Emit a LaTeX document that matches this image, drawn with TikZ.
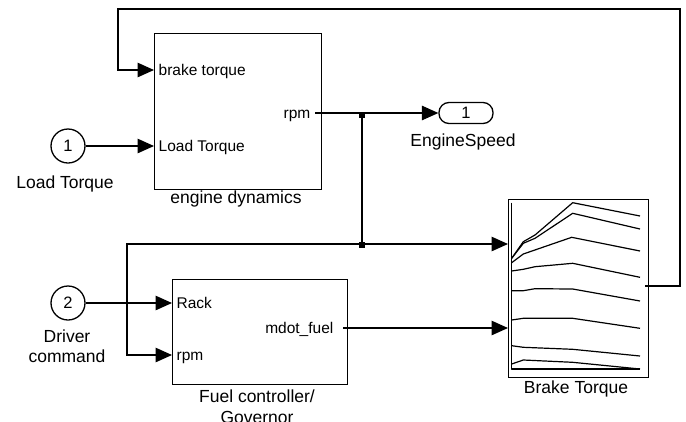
\documentclass[tikz,border=0pt]{standalone}
\usepackage{fontspec}
\setmainfont{Liberation Sans}
\usetikzlibrary{arrows.meta}
\begin{document}
\begin{tikzpicture}[x=1pt,y=-1pt, line width=1.3pt,
  blk/.style={draw, line width=1.3pt, inner sep=0pt, anchor=north west},
  namelbl/.style={font=\fontsize{17.5}{20}\selectfont, anchor=base, inner sep=0pt},
  portlbl/.style={font=\fontsize{15.5}{18}\selectfont, inner sep=0pt},
  inport/.style={draw, circle, minimum size=34pt, inner sep=0pt, font=\fontsize{16.5}{18}\selectfont},
  sig/.style={line width=1.3pt, -{Triangle[length=16.5pt,width=14.5pt]}},
  wire/.style={line width=1.3pt},
  junc/.style={fill, minimum size=6pt, inner sep=0pt},
  tcurve/.style={line width=1.2pt, line join=round}]
\useasboundingbox (0,0) rectangle (686,421);

% blocks
\node[blk, minimum width=167pt, minimum height=156pt] (eng) at (154,33) {};
\node[blk, minimum width=175pt, minimum height=105pt] (fuel) at (172,279) {};
\node[blk, minimum width=140pt, minimum height=178pt] (bt) at (508,199) {};
\node[inport] (in1) at (68,146) {1};
\node[inport] (in2) at (68,303) {2};
\node[draw, rounded corners=10pt, minimum width=54pt, minimum height=21pt, inner sep=0pt,
      font=\fontsize{16.5}{18}\selectfont] (out1) at (466,113) {1};

% port labels
\node[portlbl, anchor=base west] (lbt) at (158,75.5) {brake torque};
\node[portlbl, anchor=base west] (llt) at (158,151.5) {Load Torque};
\node[portlbl, anchor=base east] (lrpm) at (311,118.5) {rpm};
\node[portlbl, anchor=base west] (lrack) at (176,308.5) {Rack};
\node[portlbl, anchor=base west] (lrpmb) at (176,360.5) {rpm};
\node[portlbl, anchor=base east] (lmdot) at (334,333.5) {mdot\_fuel};

% block names
\node[namelbl] (neng) at (236,203) {engine dynamics};
\node[namelbl] (nin1) at (65,188) {Load Torque};
\node[namelbl] (nout1) at (463,146) {EngineSpeed};
\node[namelbl] (nin2a) at (67,342) {Driver};
\node[namelbl] (nin2b) at (67,362) {command};
\node[namelbl] (nfuela) at (257,402) {Fuel controller/};
\node[namelbl] (nfuelb) at (257,423) {Governor};
\node[namelbl] (nbt) at (576,393) {Brake Torque};

% port coordinates
\coordinate (engin1) at (154,70);
\coordinate (engin2) at (154,146);
\coordinate (engout) at (315,113);
\coordinate (fuelin1) at (172,303);
\coordinate (fuelin2) at (172,355);
\coordinate (fuelout) at (343,328);
\coordinate (btin1) at (508,244);
\coordinate (btin2) at (508,328);
\coordinate (btout) at (645,286);
\coordinate (j1) at (362,113);
\coordinate (j2) at (362,244);
\coordinate (fbtop) at (118,9);
\coordinate (fbleft) at (127,244);

% connectors
\draw[sig] (btout) -- ++(35,0) |- (fbtop) |- (engin1);
\draw[sig] (in1) -- (engin2);
\draw[wire] (engout) -- (j1);
\draw[sig] (j1) -- (out1.west);
\draw[wire] (j1) -- (j2);
\draw[sig] (j2) -- (btin1);
\draw[sig] (j2) -- (fbleft) |- (fuelin2);
\draw[sig] (in2) -- (fuelin1);
\draw[sig] (fuelout) -- (btin2);
\node[junc] (jd1) at ([yshift=-2pt]j1) {};
\node[junc] (jd2) at ([yshift=-1pt]j2) {};

% lookup table icon
\draw[tcurve] (511.7,202.7) -- (511.7,369) -- (640,369);
\draw[tcurve] (511.7,258.3) -- (523.3,241.7) -- (535,235) -- (572.7,202.7) -- (640,216);
\draw[tcurve] (511.7,258.3) -- (523.3,243.3) -- (535,238.3) -- (572.7,213.3) -- (640,229);
\draw[tcurve] (511.7,262.7) -- (523.3,254) -- (571.7,237.3) -- (640,251);
\draw[tcurve] (511.7,271) -- (523.3,269.3) -- (535,266.7) -- (572.7,263.3) -- (640,277.3);
\draw[tcurve] (511.7,290.7) -- (523.3,290.7) -- (535,288.7) -- (572.7,289) -- (640,301);
\draw[tcurve] (511.7,320) -- (523.3,318.3) -- (572.7,318.3) -- (640,328.3);
\draw[tcurve] (511.7,345.7) -- (523.3,347.3) -- (572.7,349.3) -- (640,356);
\draw[tcurve] (511.7,364) -- (523.3,360) -- (572.7,362.3) -- (640,369);
\end{tikzpicture}
\end{document}
